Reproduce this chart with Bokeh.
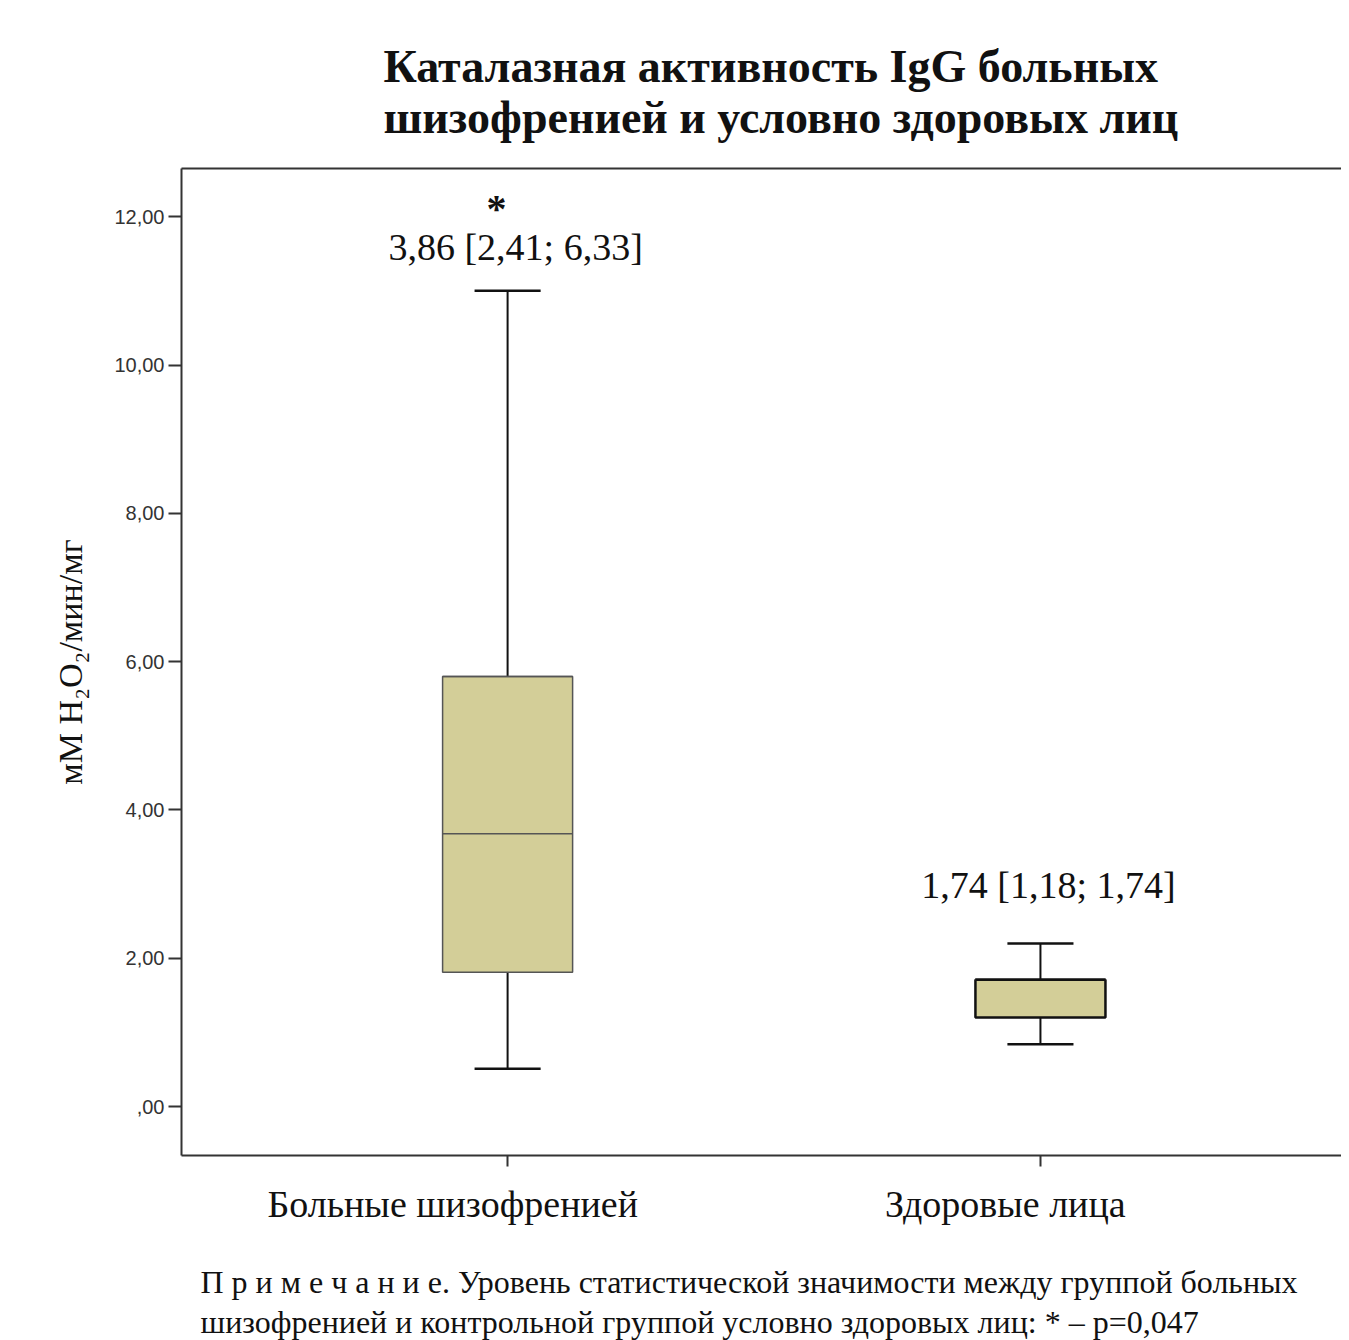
from bokeh.plotting import figure
from bokeh.models import Range1d, FixedTicker, LinearAxis, Title, ColumnDataSource
from bokeh.core.properties import value
from bokeh.embed import file_html
from bokeh.resources import INLINE

# ---------------- data ----------------
categories = ["Больные шизофренией", "Здоровые лица"]
q1 = [1.81, 1.20]
medians = [3.68, 1.71]
q3 = [5.80, 1.71]
lower = [0.51, 0.84]
upper = [11.00, 2.20]
summary_labels = ["3,86 [2,41; 6,33]", "1,74 [1,18; 1,74]"]
significance = ["*", ""]
y_ticks = [0, 2, 4, 6, 8, 10, 12]
y_tick_labels = [",00", "2,00", "4,00", "6,00", "8,00", "10,00", "12,00"]
title_lines = ["Каталазная активность IgG больных",
               "шизофренией и условно здоровых лиц"]
y_label = "мМ H₂O₂/мин/мг"
note_lines = ["П р и м е ч а н и е. Уровень статистической значимости между группой больных",
              "шизофренией и контрольной группой условно здоровых лиц: * – p=0,047"]

# ---------------- styles ----------------
SERIF = "Liberation Serif"
BOX_FILL = "#D3CE98"
box_line_colors = ["#555555", "#111111"]
box_line_widths = [1.5, 2.5]
label_y_offsets = [-44, -58]
label_shifts = [-0.103, -0.066]
box_w = 0.244
cap_w = 0.124

positions = [i + 1 for i in range(len(categories))]

p = figure(width=1341, height=1340, output_backend="svg", toolbar_location=None,
           title=None, x_range=Range1d(0.388, 2.565), y_range=Range1d(-0.66, 12.65),
           min_border_left=181, min_border_right=0, min_border_top=168,
           min_border_bottom=185, background_fill_color="white",
           border_fill_color="white", outline_line_color=None)
p.xgrid.visible = False
p.ygrid.visible = False

# boxes
src = ColumnDataSource(dict(x=positions, q1=q1, q3=q3, med=medians, lo=lower, hi=upper,
                            x0=[x - box_w / 2 for x in positions],
                            x1=[x + box_w / 2 for x in positions],
                            c0=[x - cap_w / 2 for x in positions],
                            c1=[x + cap_w / 2 for x in positions],
                            lc=box_line_colors, lw=box_line_widths,
                            lab=summary_labels, yo=label_y_offsets))

p.segment(x0="x", x1="x", y0="q3", y1="hi", source=src, line_color="#111111", line_width=2)
p.segment(x0="x", x1="x", y0="lo", y1="q1", source=src, line_color="#111111", line_width=2)
p.segment(x0="c0", x1="c1", y0="hi", y1="hi", source=src, line_color="#111111", line_width=2.5)
p.segment(x0="c0", x1="c1", y0="lo", y1="lo", source=src, line_color="#111111", line_width=2.5)
p.vbar(x="x", width=box_w, bottom="q1", top="q3", source=src, fill_color=BOX_FILL,
       line_color="lc", line_width="lw")
p.segment(x0="x0", x1="x1", y0="med", y1="med", source=src, line_color="#555555", line_width=1.5)
p.segment(x0="x0", x1="x1", y0="q3", y1="q3", source=src, line_color="lc", line_width="lw")

# annotations
p.text(x="x", y="hi", text="lab", source=src, x_offset=8, y_offset="yo",
       text_align="center", text_baseline="alphabetic", text_color="#111111",
       text_font=value(SERIF), text_font_size="38px")

sig_idx = [i for i, s in enumerate(significance) if s]
sig_src = ColumnDataSource(dict(x=[positions[i] for i in sig_idx],
                                hi=[upper[i] for i in sig_idx],
                                sig=[significance[i] for i in sig_idx],
                                yo=[label_y_offsets[i] - 38 for i in sig_idx]))
p.text(x="x", y="hi", text="sig", source=sig_src, x_offset=-11, y_offset="yo",
       text_align="center", text_baseline="alphabetic", text_color="#111111",
       text_font=value(SERIF), text_font_size="40px", text_font_style="bold")

# y axis
ya = p.yaxis[0]
ya.ticker = FixedTicker(ticks=y_ticks)
ya.major_label_overrides = dict(zip(y_ticks, y_tick_labels))
ya.major_label_text_font = "Liberation Sans"
ya.major_label_text_font_size = "20px"
ya.major_label_text_color = "#333333"
ya.major_tick_out = 13
ya.major_tick_in = 0
ya.major_label_standoff = 4
ya.minor_tick_line_color = None
ya.axis_line_width = 2
ya.axis_line_color = "#333333"
ya.major_tick_line_width = 2
ya.major_tick_line_color = "#333333"
ya.axis_label = y_label
ya.axis_label_text_font = SERIF
ya.axis_label_text_font_size = "34px"
ya.axis_label_text_font_style = "normal"
ya.axis_label_text_color = "#111111"
ya.axis_label_standoff = 22

# x axis (ticks only, labels not drawn)
xa = p.xaxis[0]
xa.ticker = FixedTicker(ticks=positions)
xa.major_label_text_font_size = "1px"
xa.major_label_text_color = None
xa.major_label_standoff = 0
xa.major_tick_out = 11
xa.major_tick_in = 0
xa.major_tick_line_width = 2
xa.major_tick_line_color = "#333333"
xa.minor_tick_line_color = None
xa.axis_line_width = 2
xa.axis_line_color = "#333333"

# x category labels (slightly left of ticks, as in the original)
label_ticks = [x + s for x, s in zip(positions, label_shifts)]
la = LinearAxis(ticker=FixedTicker(ticks=label_ticks),
                major_label_overrides=dict(zip(label_ticks, categories)),
                axis_line_color=None, major_tick_line_color=None, minor_tick_line_color=None,
                major_tick_out=0, major_tick_in=0, major_label_standoff=16,
                major_label_text_font=SERIF, major_label_text_font_size="38px",
                major_label_text_color="#111111")
p.add_layout(la, "below")

# blank spacer between category labels and the note (white tick on white)
sp = LinearAxis(ticker=FixedTicker(ticks=positions[:1]), major_label_text_font_size="1px",
                major_label_text_color=None, major_label_standoff=0,
                major_tick_out=33, major_tick_in=0, major_tick_line_color="white",
                major_tick_line_width=1, minor_tick_line_color=None, axis_line_color=None)
p.add_layout(sp, "below")

# top frame line
ta = LinearAxis(ticker=FixedTicker(ticks=[]), major_label_text_font_size="1px",
                major_label_text_color=None,
                major_label_standoff=0, major_tick_out=0, major_tick_in=0,
                minor_tick_line_color=None, axis_line_width=2, axis_line_color="#333333")
p.add_layout(ta, "above")

# title (two lines)
p.add_layout(Title(text="\n".join(title_lines), align="left", offset=202, text_font=SERIF,
                   text_font_size="46px", text_font_style="bold",
                   text_color="#111111", standoff=52), "above")

# footnote
note_standoffs = [3, 0]
for line, so in zip(note_lines, note_standoffs):
    p.add_layout(Title(text=line, align="left", offset=19, text_font=SERIF,
                       text_font_size="32px", text_font_style="normal",
                       text_color="#111111", standoff=so), "below")

open("out.html", "w").write(file_html(p, INLINE))
